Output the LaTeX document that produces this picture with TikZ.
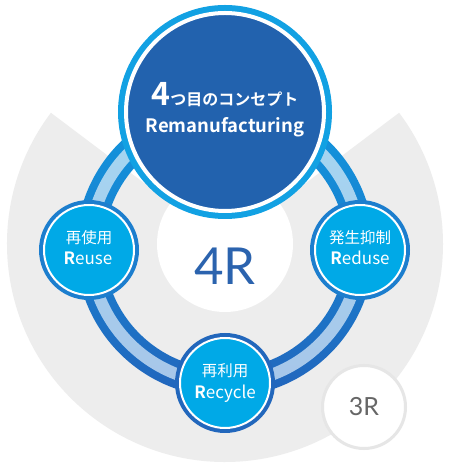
\documentclass[tikz,border=0pt]{standalone}
\usepackage{fontspec}
\setmainfont{Noto Sans CJK JP}[BoldFont={Noto Sans CJK JP Bold}]
\newfontfamily\latofont{Lato}
\definecolor{bggrey}{HTML}{EDEDED}
\definecolor{topcyan}{HTML}{12A1E3}
\definecolor{topdark}{HTML}{2262AE}
\definecolor{nodefill}{HTML}{00A9E7}
\definecolor{ringtop}{HTML}{1199E0}
\definecolor{ringbot}{HTML}{2265BC}
\definecolor{lighttop}{HTML}{A5D7F2}
\definecolor{lightbot}{HTML}{A7C6E9}
\definecolor{fourblue}{HTML}{2B63AE}
\definecolor{textgrey}{HTML}{666666}
\definecolor{threeborder}{HTML}{E6E6E6}
\definecolor{sideborder}{HTML}{1C7ECE}
\definecolor{bottomborder}{HTML}{2267BC}
\tikzset{
  smallnode/.style={circle, fill=nodefill, draw=white, line width=2pt, minimum size=90pt, inner sep=0pt},
  jptext/.style={text=white, anchor=base, font=\fontsize{15.5}{18}\selectfont, inner sep=0pt},
  latext/.style={text=white, anchor=base, font=\fontsize{17}{20}\selectfont, inner sep=0pt},
}
\begin{document}
\begin{tikzpicture}[x=1pt,y=1pt]
\useasboundingbox (0,0) rectangle (450,470);
\fill[white] (0,0) rectangle (450,470);
% grey sector background
\coordinate (g) at (225,226);
\fill[bggrey] (g) -- ++(143:218) arc[start angle=143,end angle=397,radius=218] -- cycle;
\fill[white] (g) circle (68);
% ring
\coordinate (rc) at (225,222);
\shade[top color=ringtop, bottom color=ringbot, even odd rule] (rc) circle (149) (rc) circle (121);
\shade[top color=lighttop, bottom color=lightbot, even odd rule] (rc) circle (141) (rc) circle (129);
% 3R circle
\node[circle, fill=white, draw=threeborder, line width=3pt, minimum size=83pt, inner sep=0pt,
      text=textgrey, font=\latofont\fontsize{25}{25}\selectfont] (three) at (364,63) {3R};
% 4R
\node[text=fourblue, font=\latofont\fontsize{51}{51}\selectfont, inner sep=0pt] (four) at (225,204) {4R};
% side nodes
\fill[sideborder] (89,220) circle (50);
\node[smallnode] (reuse) at (89,220) {};
\node[jptext] (reusejp) at (89,226) {再使用};
\node[latext] (reuseen) at (88,205) {\textbf{R}euse};
\fill[sideborder] (360,220) circle (50);
\node[smallnode] (reduse) at (360,220) {};
\node[jptext] (redusejp) at (360,226) {発生抑制};
\node[latext] (reduseen) at (360,205) {\textbf{R}eduse};
\fill[bottomborder] (225,87) circle (50);
\node[smallnode] (recycle) at (225,87) {};
\node[jptext] (recyclejp) at (225,93) {再利用};
\node[latext] (recycleen) at (225,71) {\textbf{R}ecycle};
% top node
\fill[topcyan] (225,358) circle (107);
\node[circle, fill=topdark, draw=white, line width=4pt, minimum size=198pt, inner sep=0pt] (remanu) at (225,358) {};
\node[text=white, anchor=base, inner sep=0pt, font=\bfseries\fontsize{16}{20}\selectfont] (concept) at (225,364) {{\fontsize{32}{32}\selectfont 4}つ目のコンセプト};
\node[text=white, anchor=base, inner sep=0pt, font=\bfseries\fontsize{18.5}{20}\selectfont] (remanuen) at (225,337) {Remanufacturing};
\end{tikzpicture}
\end{document}
